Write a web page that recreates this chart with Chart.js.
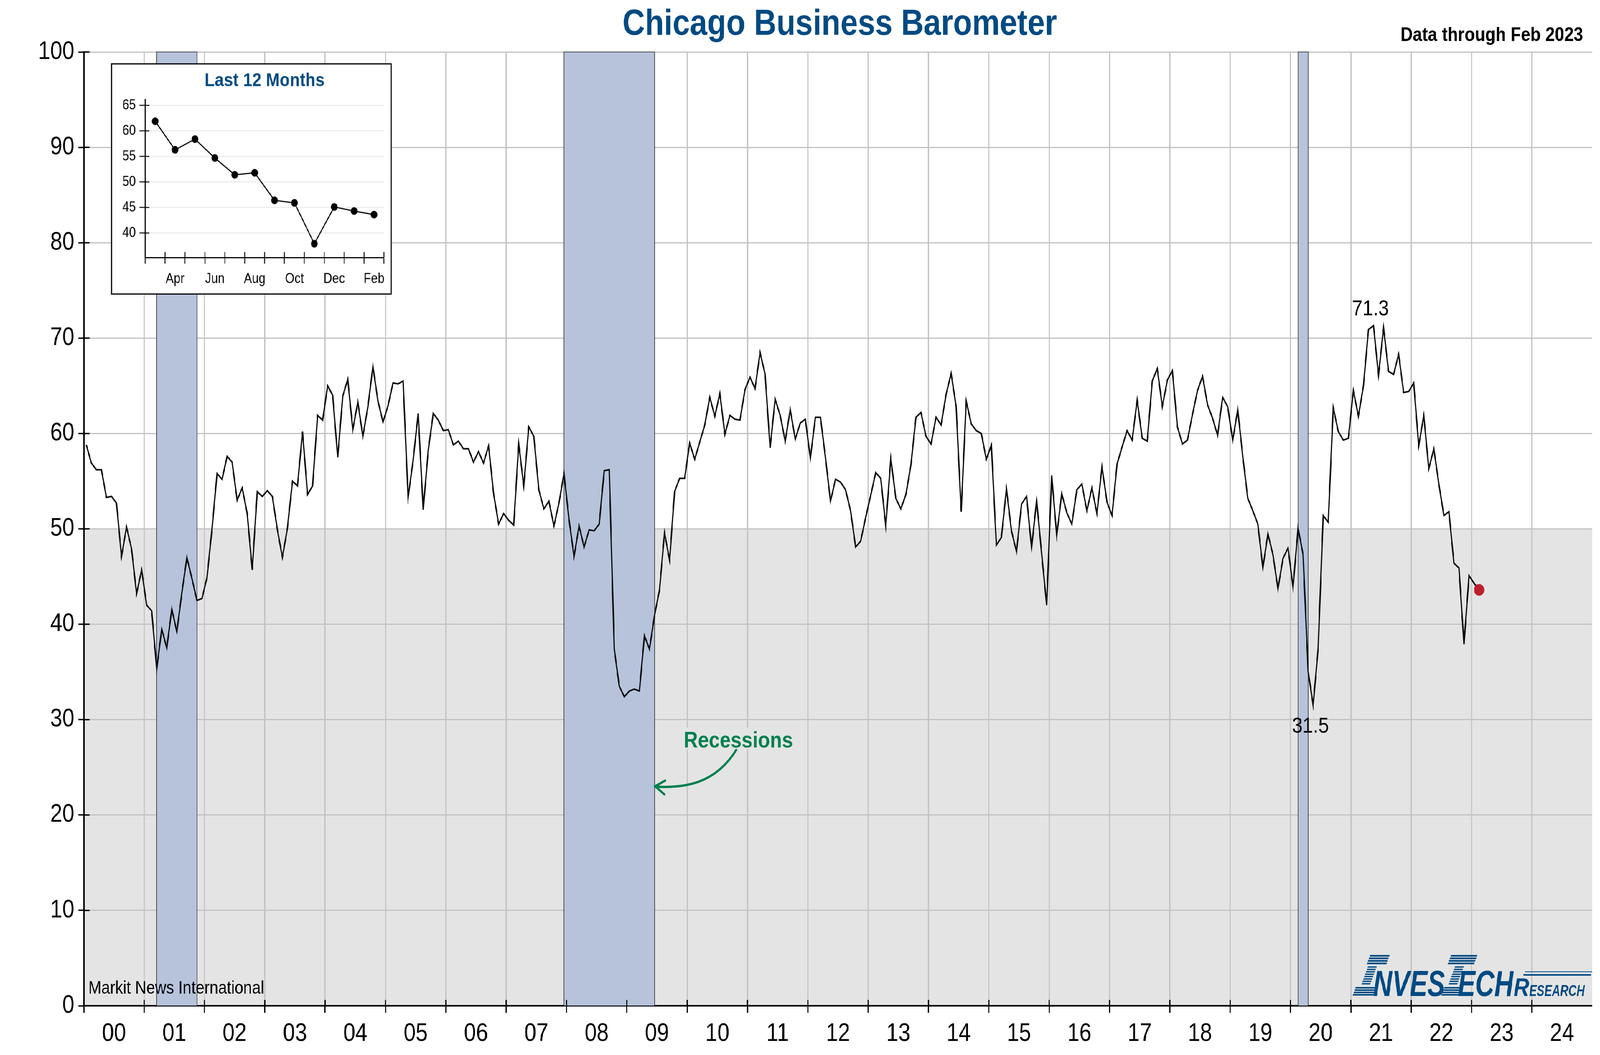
<!DOCTYPE html>
<html><head><meta charset="utf-8">
<style>
html,body{margin:0;padding:0;background:#fff;overflow:hidden}
#wrap{position:absolute;left:0;top:0;width:4725px;height:2700px;transform-origin:0 0}
#main{position:absolute;left:0;top:0}
#inset{position:absolute;left:328px;top:162px;box-sizing:border-box;border:3px solid #000;background:#fff}
</style>
<script src="https://cdn.jsdelivr.net/npm/chart.js@4/dist/chart.umd.min.js"></script>
</head><body>
<div id="wrap"><canvas id="main" width="4725" height="2700"></canvas><canvas id="inset" width="829" height="592"></canvas></div>
<script>
// The window can be smaller than the chart's 4725x2700 layout: fit the whole chart into it.
document.getElementById('wrap').style.transform = 'scale(' + (innerWidth / 4725) + ',' + (innerHeight / 2700) + ')';
const yearLabels = ['00','01','02','03','04','05','06','07','08','09','10','11','12','13','14','15','16','17','18','19','20','21','22','23','24'];
const monthNames = ['Jan','Feb','Mar','Apr','May','Jun','Jul','Aug','Sep','Oct','Nov','Dec'];
const barometer = [
58.8,56.9,56.2,56.2,53.3,53.4,52.7,47.1,50.2,47.9,43.2,45.7,
42.0,41.4,35.3,39.5,37.5,41.6,39.2,43.3,47.0,44.8,42.5,42.7,
44.9,50.0,55.8,55.2,57.6,57.0,53.0,54.3,51.6,45.7,53.9,53.4,
54.0,53.4,49.9,47.0,50.1,55.0,54.5,60.2,53.6,54.5,61.9,61.4,
65.0,64.0,57.5,63.9,65.7,60.4,63.3,59.7,62.8,67.0,63.4,61.2,
62.9,65.3,65.2,65.5,53.3,57.2,62.1,52.0,58.2,62.1,61.4,60.3,
60.4,58.8,59.2,58.4,58.4,57.0,58.1,56.9,58.7,53.7,50.5,51.6,
50.9,50.4,58.9,54.5,60.7,59.7,54.1,52.1,52.9,50.3,52.7,55.8,
51.0,47.1,50.3,48.1,49.9,49.8,50.5,56.1,56.2,37.4,33.5,32.4,
33.0,33.2,33.0,38.8,37.4,40.9,43.6,49.6,46.7,53.9,55.3,55.3,
59.0,57.3,59.1,60.9,63.8,61.8,64.2,59.9,61.9,61.5,61.4,64.6,
65.9,64.7,68.5,66.2,58.5,63.6,61.9,59.2,62.5,59.4,61.1,61.5,
57.4,61.7,61.7,57.5,52.9,55.2,54.9,54.1,51.9,48.1,48.7,51.2,
53.5,55.9,55.3,50.3,57.4,53.2,52.1,53.6,56.7,61.7,62.2,59.7,
58.9,61.7,60.9,64.1,66.3,62.8,51.8,63.4,61.0,60.3,60.0,57.3,
58.8,48.3,49.1,54.2,49.8,47.6,52.6,53.4,48.0,53.0,47.4,42.0,
55.6,49.3,53.7,51.7,50.5,54.1,54.7,51.9,54.3,51.6,56.5,52.8,
51.4,56.8,58.6,60.3,59.3,63.5,59.5,59.2,65.5,66.8,62.8,65.6,
66.6,60.7,58.9,59.3,62.0,64.5,66.0,63.0,61.6,59.8,63.8,62.8,
59.3,62.5,57.6,53.2,51.9,50.5,45.9,49.5,47.3,43.7,46.9,48.0,
43.9,50.1,47.3,35.1,31.5,37.5,51.4,50.7,62.7,60.2,59.3,59.5,
64.5,61.8,65.0,70.9,71.3,66.1,71.1,66.5,66.2,68.3,64.3,64.4,
65.3,58.7,61.9,56.3,58.4,54.7,51.4,51.8,46.4,45.9,37.9,45.1,
44.3,43.6];
const recessionStart = [14, 95, 241];
const recessionEnd = [22, 113, 243];
const insetLabels = ['Mar','Apr','May','Jun','Jul','Aug','Sep','Oct','Nov','Dec','Jan','Feb'];
const insetValues = barometer.slice(-12);
const monthLabels = yearLabels.flatMap(y => monthNames.map(m => m + ' ' + y));
const peakValue = 71.3, troughValue = 31.5;

const FONT = '"Liberation Sans", Arial, sans-serif';
const NAVY = '#004a82', GREEN = '#00804f', GRID = '#c2c2c2';

function put(ctx, s, x, y, font, color, align) {
  ctx.font = font; ctx.fillStyle = color; ctx.textAlign = align || 'left'; ctx.textBaseline = 'alphabetic';
  ctx.fillText(s, x, y);
}
function fitText(ctx, s, x, y, w, font, color) {
  ctx.save(); ctx.font = font;
  const m = ctx.measureText(s).width;
  ctx.translate(x, y); ctx.scale(w / m, 1);
  ctx.fillStyle = color; ctx.textAlign = 'left'; ctx.textBaseline = 'alphabetic';
  ctx.fillText(s, 0, 0); ctx.restore();
}
const SK = 0.42;
function stripes(ctx, xBase, w, top, bottom, n, gapRatio) {
  const base = 2549, h = (bottom - top) / n;
  for (let k = 0; k < n; k++) {
    const y0 = top + k * h, y1 = y0 + h * (1 - gapRatio);
    ctx.beginPath();
    ctx.moveTo(xBase + (base - y0) * SK, y0);
    ctx.lineTo(xBase + w + (base - y0) * SK, y0);
    ctx.lineTo(xBase + w + (base - y1) * SK, y1);
    ctx.lineTo(xBase + (base - y1) * SK, y1);
    ctx.closePath(); ctx.fill();
  }
}
function drawLogo(ctx) {
  ctx.save(); ctx.fillStyle = NAVY;
  stripes(ctx, 4002, 58, 2444, 2470, 4, .33);
  stripes(ctx, 4008, 26, 2473, 2522, 8, .42);
  stripes(ctx, 3994, 64, 2526, 2550, 4, .33);
  stripes(ctx, 4241, 78, 2444, 2470, 4, .33);
  stripes(ctx, 4265, 26, 2473, 2522, 8, .42);
  stripes(ctx, 4256, 52, 2526, 2550, 4, .33);
  ctx.fillRect(4503, 2486, 199, 2);
  ctx.fillRect(4499, 2493, 200, 4);
  fitText(ctx, 'NVES', 4055, 2549, 212, 'italic bold 92px ' + FONT, NAVY);
  fitText(ctx, 'ECH', 4305, 2549, 164, 'italic bold 92px ' + FONT, NAVY);
  fitText(ctx, 'R', 4470, 2549, 46, 'italic bold 64px ' + FONT, NAVY);
  fitText(ctx, 'ESEARCH', 4516, 2549, 164, 'italic bold 40px ' + FONT, NAVY);
  ctx.restore();
}
function drawArrow(ctx, x, y) {
  const tipX = x.getPixelForValue(113), tipY = y.getPixelForValue(23.05);
  ctx.save();
  ctx.strokeStyle = GREEN; ctx.lineWidth = 6; ctx.lineCap = 'butt';
  ctx.beginPath();
  ctx.moveTo(tipX + 243, tipY - 94);
  ctx.bezierCurveTo(tipX + 180, tipY - 5, tipX + 90, tipY + 6, tipX + 2, tipY + 2);
  ctx.stroke();
  ctx.lineWidth = 6;
  ctx.beginPath();
  ctx.moveTo(tipX + 34, tipY - 15);
  ctx.lineTo(tipX + 2, tipY + 1);
  ctx.lineTo(tipX + 31, tipY + 23);
  ctx.stroke();
  ctx.restore();
}

const underlay = {
  id: 'underlay',
  beforeDraw(chart) {
    const { ctx, chartArea: a, scales: { y } } = chart;
    const y50 = y.getPixelForValue(50);
    ctx.save(); ctx.fillStyle = '#e4e4e4';
    ctx.fillRect(a.left, y50, a.right - a.left, a.bottom - y50);
    ctx.restore();
  },
  beforeDatasetsDraw(chart) {
    const { ctx, chartArea: a, scales: { x } } = chart;
    ctx.save();
    recessionStart.forEach((s, i) => {
      const x0 = x.getPixelForValue(s), x1 = x.getPixelForValue(recessionEnd[i]);
      ctx.fillStyle = '#b6c3db';
      ctx.fillRect(x0, a.top, x1 - x0, a.bottom - a.top);
      ctx.strokeStyle = '#222'; ctx.lineWidth = 1.5;
      ctx.strokeRect(x0, a.top, x1 - x0, a.bottom - a.top);
    });
    ctx.restore();
  },
  afterDraw(chart) {
    const { ctx, scales: { x, y } } = chart;
    ctx.save(); ctx.strokeStyle = '#000'; ctx.lineWidth = 3.5;
    ctx.beginPath();
    y.ticks.forEach(t => { const p = y.getPixelForValue(t.value); ctx.moveTo(y.right, p); ctx.lineTo(y.right + 17, p); });
    for (let i = 0; i < 300; i += 12) { const p = x.getPixelForValue(i - 0.5); ctx.moveTo(p, x.top); ctx.lineTo(p, x.top - 15); }
    ctx.stroke();
    put(ctx, 'Chicago Business Barometer', 1838, 89, 'bold 92px ' + FONT, NAVY);
    put(ctx, 'Data through Feb 2023', 4675, 105, 'bold 50px ' + FONT, '#000', 'right');
    put(ctx, 'Markit News International', 261, 2543, '46px ' + FONT, '#000');
    const n = barometer.indexOf(peakValue), m = barometer.indexOf(troughValue);
    put(ctx, String(peakValue), x.getPixelForValue(n) - 9, y.getPixelForValue(peakValue) - 27, '56px ' + FONT, '#000', 'center');
    put(ctx, String(troughValue), x.getPixelForValue(m) - 8, y.getPixelForValue(troughValue) + 70, '56px ' + FONT, '#000', 'center');
    ctx.fillStyle = '#e4e4e4'; ctx.fillRect(2015, 1862, 330, 56);
    put(ctx, 'Recessions', 2019, 1913, 'bold 58px ' + FONT, GREEN);
    drawArrow(ctx, x, y);
    drawLogo(ctx);
    ctx.restore();
  }
};

new Chart(document.getElementById('main'), {
  type: 'line',
  plugins: [underlay],
  data: {
    labels: monthLabels,
    datasets: [{
      data: barometer,
      borderColor: '#0a0a0a', borderWidth: 4, tension: 0, fill: false,
      pointRadius: c => c.dataIndex === barometer.length - 1 ? 15 : 0,
      pointBackgroundColor: '#be1e2d', pointBorderWidth: 0, borderJoinStyle: 'miter'
    }]
  },
  options: {
    responsive: false, animation: false, devicePixelRatio: 1,
    layout: { padding: { top: 133, right: 23, left: 0, bottom: 0 } },
    plugins: { legend: { display: false }, tooltip: { enabled: false } },
    scales: {
      x: {
        type: 'category', offset: true,
        afterFit: s => { s.height = 126; },
        border: { display: true, color: '#000', width: 4 },
        grid: {
          offset: true, tickLength: 18,
          color: c => c.index % 12 === 0 && c.index > 0 ? GRID : 'transparent',
          lineWidth: c => c.index % 12 === 0 && c.index > 0 ? 3.5 : 0,
          tickColor: c => c.index % 12 === 0 ? '#000' : 'transparent',
          tickWidth: c => c.index % 12 === 0 ? 3.5 : 0
        },
        ticks: {
          autoSkip: false, maxRotation: 0, minRotation: 0, color: '#000', padding: 16,
          font: { family: FONT, size: 64 }, labelOffset: -7.42,
          callback: (v, i) => i % 12 === 6 ? yearLabels[(i - 6) / 12] : ''
        }
      },
      y: {
        min: 0, max: 100,
        afterFit: s => { s.width = 247.5; },
        border: { display: true, color: '#000', width: 4 },
        grid: { color: GRID, lineWidth: 3, tickLength: 16, tickColor: '#000', tickWidth: 3.5 },
        ticks: { stepSize: 10, color: '#000', padding: 12, font: { family: FONT, size: 64 } }
      }
    }
  }
});

const insetDecor = {
  id: 'insetDecor',
  afterDraw(chart) {
    const { ctx, scales: { x, y } } = chart;
    ctx.save(); ctx.strokeStyle = '#000'; ctx.lineWidth = 2.5;
    ctx.beginPath();
    y.ticks.forEach(t => { const p = y.getPixelForValue(t.value); ctx.moveTo(y.right, p); ctx.lineTo(y.right + 12.5, p); });
    for (let i = 0; i <= 12; i++) { const p = x.getPixelForValue(i - 0.5); ctx.moveTo(p, x.top); ctx.lineTo(p, x.top - 14); }
    ctx.stroke();
    put(ctx, 'Last 12 Months', (x.left + x.right) / 2, 56, 'bold 49px ' + FONT, NAVY, 'center');
    ctx.restore();
  }
};
new Chart(document.getElementById('inset'), {
  type: 'line',
  plugins: [insetDecor],
  data: {
    labels: insetLabels,
    datasets: [{
      data: insetValues, borderColor: '#000', borderWidth: 3, tension: 0, fill: false,
      pointRadius: 10, pointBackgroundColor: '#000', pointBorderWidth: 0
    }]
  },
  options: {
    responsive: false, animation: false, devicePixelRatio: 1,
    layout: { padding: { top: 90, right: 20, left: 0, bottom: 0 } },
    plugins: { legend: { display: false }, tooltip: { enabled: false } },
    scales: {
      x: {
        type: 'category', offset: true,
        afterFit: s => { s.height = 93; },
        border: { display: true, color: '#000', width: 3 },
        grid: { offset: true, drawOnChartArea: false, tickLength: 16, tickColor: '#000', tickWidth: 2.5 },
        ticks: {
          autoSkip: false, maxRotation: 0, minRotation: 0, color: '#000', padding: 18,
          font: { family: FONT, size: 36 },
          callback: function (v, i) { return i % 2 === 1 ? insetLabels[i] : ''; }
        }
      },
      y: {
        min: 35.2, max: 66.2,
        afterFit: s => { s.width = 98.5; },
        border: { display: true, color: '#000', width: 3 },
        grid: { color: '#ececec', lineWidth: 3, tickLength: 17, tickColor: '#000', tickWidth: 2.5 },
        ticks: { stepSize: 5, includeBounds: false, color: '#000', padding: 11, font: { family: FONT, size: 36 } }
      }
    }
  }
});
</script>
</body></html>
